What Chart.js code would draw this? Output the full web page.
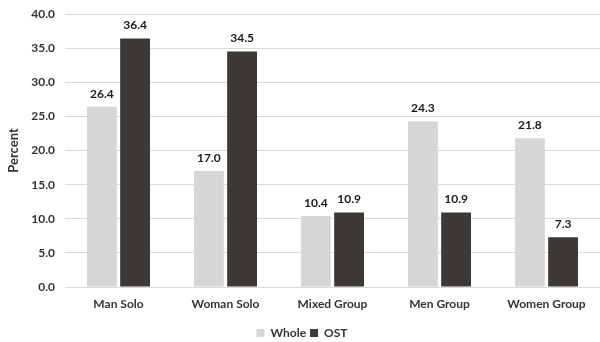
<!DOCTYPE html>
<html>
<head>
<meta charset="utf-8">
<script src="https://cdn.jsdelivr.net/npm/chart.js@4/dist/chart.umd.min.js"></script>
<style>
  html, body { margin: 0; padding: 0; background: #fff; }
  #wrap { width: 600px; height: 342px; position: relative; }
</style>
</head>
<body>
<div id="wrap"><canvas id="c" width="600" height="342"></canvas></div>
<script>
const categories = ['Man Solo', 'Woman Solo', 'Mixed Group', 'Men Group', 'Women Group'];
const wholeValues = [26.4, 17.0, 10.4, 24.3, 21.8];
const ostValues = [36.4, 34.5, 10.9, 10.9, 7.3];
const seriesNames = ['Whole', 'OST'];
const yTicks = [0, 5, 10, 15, 20, 25, 30, 35, 40];

const FONT = 'Lato, "Liberation Sans", sans-serif';
const TEXT = '#333333';

// Values printed above each bar
const valueLabels = {
  id: 'valueLabels',
  afterDatasetsDraw(chart) {
    const ctx = chart.ctx;
    ctx.save();
    ctx.font = 'bold 12px ' + FONT;
    ctx.fillStyle = '#1a1a1a';
    ctx.textAlign = 'center';
    ctx.textBaseline = 'bottom';
    chart.data.datasets.forEach((ds, i) => {
      chart.getDatasetMeta(i).data.forEach((bar, j) => {
        ctx.fillText(ds.data[j].toFixed(1), bar.x, bar.y - 7);
      });
    });
    ctx.restore();
  }
};

new Chart(document.getElementById('c'), {
  type: 'bar',
  data: {
    labels: categories,
    datasets: [
      { label: seriesNames[0], data: wholeValues, backgroundColor: '#d6d6d6' },
      { label: seriesNames[1], data: ostValues, backgroundColor: '#3d3936' }
    ]
  },
  options: {
    responsive: false,
    animation: false,
    layout: { padding: { top: 14, right: 0, left: 4, bottom: -7 } },
    datasets: { bar: { categoryPercentage: 0.62, barPercentage: 0.9 } },
    scales: {
      x: {
        grid: { display: false },
        border: { display: true, color: '#d9d9d9' },
        ticks: { color: TEXT, font: { family: FONT, size: 12, weight: 'bold' }, padding: 2 },
        afterFit(scale) { scale.height = 36; }
      },
      y: {
        min: 0, max: 40,
        afterBuildTicks(scale) { scale.ticks = yTicks.map(v => ({ value: v })); },
        afterFit(scale) { scale.width = 61; },
        grid: { color: '#d9d9d9', drawTicks: true, tickLength: 8, tickColor: '#fff' },
        border: { display: false },
        title: { display: true, text: 'Percent', color: TEXT, font: { family: FONT, size: 13, weight: 'bold' }, padding: 2 },
        ticks: {
          color: TEXT, font: { family: FONT, size: 12, weight: 'bold' }, padding: 2,
          callback: v => Number(v).toFixed(1)
        }
      }
    },
    plugins: {
      legend: {
        position: 'bottom',
        labels: {
          color: TEXT, font: { family: FONT, size: 12, weight: 'bold' },
          boxWidth: 8, boxHeight: 8, padding: 4
        }
      },
      tooltip: { enabled: false }
    }
  },
  plugins: [valueLabels]
});
</script>
</body>
</html>
